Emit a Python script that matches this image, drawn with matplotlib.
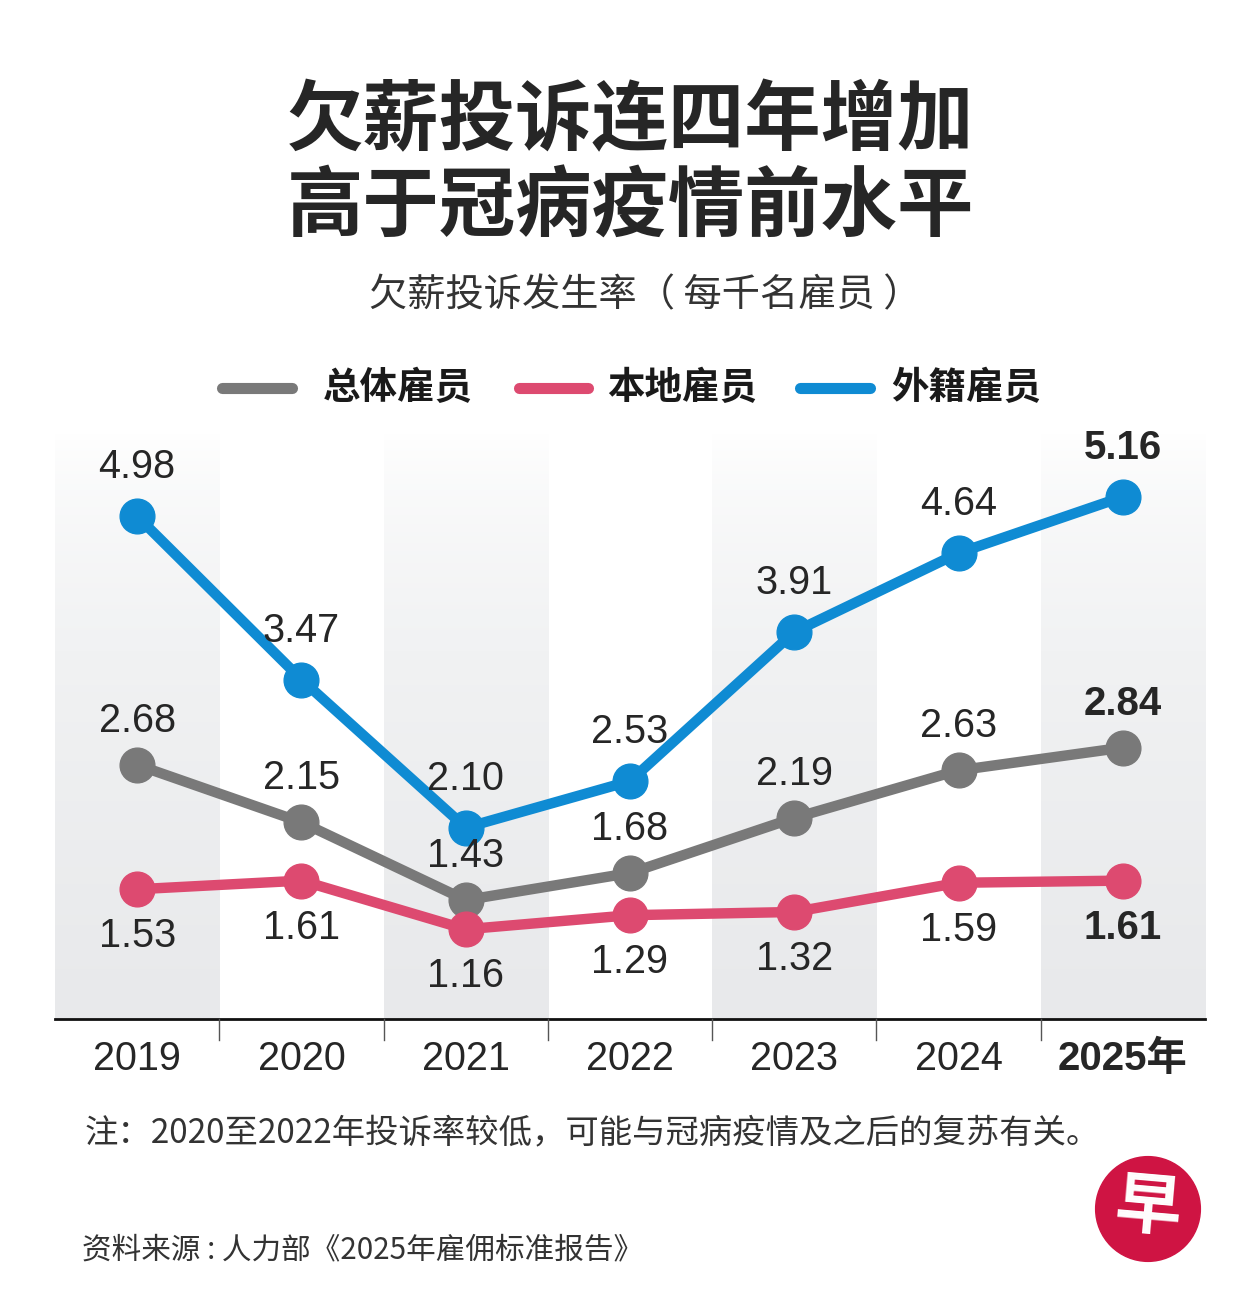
import matplotlib
matplotlib.use("Agg")
import matplotlib.pyplot as plt
import numpy as np
from matplotlib.colors import LinearSegmentedColormap
from matplotlib.patches import Circle

# ---------------- data ----------------
years = ["2019", "2020", "2021", "2022", "2023", "2024", "2025年"]
overall = [2.68, 2.15, 1.43, 1.68, 2.19, 2.63, 2.84]
local = [1.53, 1.61, 1.16, 1.29, 1.32, 1.59, 1.61]
foreign = [4.98, 3.47, 2.10, 2.53, 3.91, 4.64, 5.16]
series_names = ["总体雇员", "本地雇员", "外籍雇员"]

title_lines = ["欠薪投诉连四年增加", "高于冠病疫情前水平"]
subtitle = "欠薪投诉发生率（ 每千名雇员 ）"
note = "注：2020至2022年投诉率较低，可能与冠病疫情及之后的复苏有关。"
source = "资料来源 : 人力部《2025年雇佣标准报告》"

# ---------------- style ----------------
C_GRAY = "#797979"
C_RED = "#dd4a70"
C_BLUE = "#0f8bd3"
TXT = "#262626"
CJK = ["Noto Sans CJK SC", "DejaVu Sans"]
NUM = ["Liberation Sans", "Noto Sans CJK SC", "DejaVu Sans"]

W, H = 1251, 1311
fig = plt.figure(figsize=(W / 100, H / 100), dpi=100)
fig.patch.set_facecolor("white")

def fx(px):
    return px / W

def fy(py):
    return 1 - py / H

# plot axes: pixels x 55..1205, y 433..1019
ax_left, ax_right, ax_top, ax_bot = 55, 1205, 433, 1019
ax = fig.add_axes([fx(ax_left), fy(ax_bot), (ax_right - ax_left) / W, (ax_bot - ax_top) / H])
n = len(years)
x = np.arange(n)
ymin, ymax = 0.33, 5.75
ax.axis("off")

# shaded columns (gradient, white at top to light gray at bottom)
cmap = LinearSegmentedColormap.from_list("g", ["#ffffff", "#f1f2f3", "#e8e9eb"])
grad = np.linspace(0, 1, 256).reshape(-1, 1) ** 0.7
for i in range(0, n, 2):
    ax.imshow(grad, extent=[i - 0.5, i + 0.5, ymin, ymax], aspect="auto",
              cmap=cmap, vmin=0, vmax=1, zorder=0, origin="upper")
ax.set_xlim(-0.5, n - 0.5)
ax.set_ylim(ymin, ymax)

# lines
for vals, col in [(overall, C_GRAY), (local, C_RED), (foreign, C_BLUE)]:
    ax.plot(x, vals, color=col, lw=7.5, marker="o", ms=25, solid_capstyle="round",
            solid_joinstyle="round", zorder=3)

# value labels (offset in pixels, positive = above)
def label(vals, off_px):
    for i, v in enumerate(vals):
        bold = (i == n - 1)
        ax.annotate(f"{v:.2f}", (x[i], v), xytext=(0, off_px * 0.72), textcoords="offset points",
                    ha="center", va="center", fontsize=29 if bold else 28.5,
                    fontweight="bold" if bold else "normal", color=TXT, family=NUM, zorder=5)

label(foreign, 49)
label(overall, 44)
label(local, -47)

# x axis line and separators
ax.plot([-0.5, n - 0.5], [ymin, ymin], color="#111111", lw=2, clip_on=False, zorder=4)
for i in range(1, n):
    ax.plot([i - 0.5, i - 0.5], [ymin, ymin - 0.19], color="#555555", lw=1, clip_on=False, zorder=4)
for i, yr in enumerate(years):
    bold = (i == n - 1)
    ax.text(x[i], ymin - 0.37, yr, ha="center", va="center", fontsize=29 if bold else 28.5,
            fontweight="bold" if bold else "normal", color=TXT, family=NUM)

# ---------------- titles ----------------
fig.text(fx(630), fy(121), title_lines[0], ha="center", va="center", fontsize=55,
         fontweight="bold", color=TXT, family=CJK)
fig.text(fx(630), fy(208), title_lines[1], ha="center", va="center", fontsize=55,
         fontweight="bold", color=TXT, family=CJK)
fig.text(fx(645), fy(296), subtitle, ha="center", va="center", fontsize=27.5,
         color="#333333", family=CJK)

# legend
leg_y = 388
leg_items = [(217, 297, 323, series_names[0], C_GRAY),
             (514, 593, 607, series_names[1], C_RED),
             (795, 875, 891, series_names[2], C_BLUE)]
for x0, x1, tx, name, col in leg_items:
    fig.add_artist(plt.Line2D([fx(x0 + 5), fx(x1 - 5)], [fy(leg_y), fy(leg_y)], color=col,
                              lw=8, solid_capstyle="round", transform=fig.transFigure))
    fig.text(fx(tx), fy(leg_y), name, ha="left", va="center", fontsize=27,
             fontweight="bold", color="#1a1a1a", family=CJK)

# note and source
fig.text(fx(85), fy(1133), note, ha="left", va="center", fontsize=24, color="#333333", family=CJK)
fig.text(fx(82), fy(1250), source, ha="left", va="center", fontsize=21.3, color="#333333", family=CJK)

# logo
lax = fig.add_axes([fx(1094), fy(1263), 108 / W, 108 / H])
lax.set_xlim(-1, 1)
lax.set_ylim(-1, 1)
lax.set_aspect("equal")
lax.axis("off")
lax.add_patch(Circle((0, 0), 0.97, color="#cf1443"))
lax.text(0.0, 0.0, "早", ha="center", va="center", fontsize=48, fontweight="bold",
         color="white", family=CJK, rotation=-5)

fig.savefig("out.png", dpi=100, facecolor="white")
